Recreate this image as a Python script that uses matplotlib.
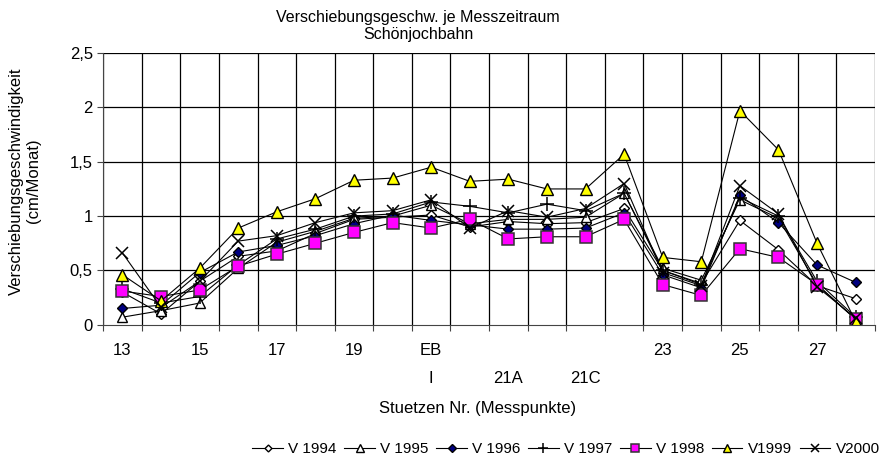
import matplotlib
matplotlib.use("Agg")
import matplotlib.pyplot as plt
from matplotlib.ticker import FixedLocator, FuncFormatter

plt.rcParams['font.family'] = ['Liberation Sans', 'DejaVu Sans']

# Messpunkte (Stuetzen)
stuetzen = ["13", "14", "15", "16", "17", "18", "19", "20", "EB I", "21",
            "21A", "21B", "21C", "22", "23", "24", "25", "26", "27", "28"]
# nur jedes zweite Label wird angezeigt
tick_labels = ["13", "15", "17", "19", "EB\nI", "\n21A", "\n21C", "23", "25", "27"]

v1994 = [0.30, 0.10, 0.40, 0.63, 0.68, 0.84, 0.97, 0.99, 1.01, 0.90,
         0.95, 0.93, 0.94, 1.07, 0.50, 0.38, 0.96, 0.69, 0.36, 0.24]
v1995 = [0.07, 0.13, 0.20, 0.52, 0.76, 0.86, 0.98, 1.00, 1.10, 0.93,
         0.97, 0.97, 0.99, 1.21, 0.52, 0.41, 1.15, 0.98, 0.37, 0.05]
v1996 = [0.15, 0.18, 0.48, 0.67, 0.73, 0.82, 0.93, 1.01, 0.96, 0.92,
         0.88, 0.88, 0.89, 1.03, 0.46, 0.34, 1.19, 0.94, 0.55, 0.39]
v1997 = [0.33, 0.20, 0.26, 0.55, 0.79, 0.88, 1.00, 1.02, 1.13, 1.09,
         1.03, 1.11, 1.05, 1.21, 0.50, 0.37, 1.17, 1.00, 0.40, 0.07]
v1998 = [0.31, 0.26, 0.32, 0.54, 0.65, 0.75, 0.85, 0.94, 0.89, 0.97,
         0.79, 0.81, 0.81, 0.97, 0.37, 0.27, 0.70, 0.62, 0.37, 0.05]
v1999 = [0.46, 0.22, 0.52, 0.89, 1.04, 1.16, 1.33, 1.35, 1.45, 1.32,
         1.34, 1.25, 1.25, 1.57, 0.62, 0.58, 1.97, 1.61, 0.75, 0.03]
v2000 = [0.66, 0.16, 0.40, 0.77, 0.82, 0.94, 1.03, 1.05, 1.15, 0.89,
         1.05, 0.99, 1.07, 1.30, 0.48, 0.36, 1.28, 1.02, 0.35, 0.06]

serien = [
    ("V 1994", v1994, dict(marker="D", ms=5, mfc="white", mec="black")),
    ("V 1995", v1995, dict(marker="^", ms=7.5, mfc="white", mec="black")),
    ("V 1996", v1996, dict(marker="D", ms=5.5, mfc="#000080", mec="black")),
    ("V 1997", v1997, dict(marker="+", ms=10, mec="black", mew=1.1)),
    ("V 1998", v1998, dict(marker="s", ms=8, mfc="#FF00FF", mec="#333333", mew=1.1)),
    ("V1999", v1999, dict(marker="^", ms=8, mfc="#FFFF00", mec="black")),
    ("V2000", v2000, dict(marker="x", ms=8.5, mec="black", mew=1.1)),
]

fig = plt.figure(figsize=(8.82, 4.70), dpi=100)
ax = fig.add_axes([0.117, 0.309, 0.875, 0.578])

x = list(range(len(stuetzen)))
for name, werte, stil in serien:
    ax.plot(x, werte, color="black", lw=0.8, label=name, **stil)

ax.set_xlim(-0.5, len(stuetzen) - 0.5)
ax.set_ylim(0, 2.5)

# Gitter: horizontal bei 0.5-Schritten, vertikal an den Kategoriegrenzen
for yv in [0.5, 1.0, 1.5, 2.0, 2.5]:
    ax.axhline(yv, color="black", lw=0.9, zorder=0)
for i in range(len(stuetzen) + 1):
    ax.axvline(i - 0.5, color="black", lw=0.9, zorder=0)

ax.set_yticks([0, 0.5, 1, 1.5, 2, 2.5])
ax.yaxis.set_major_formatter(FuncFormatter(lambda v, p: ("%g" % v).replace(".", ",")))
ax.xaxis.set_major_locator(FixedLocator([i - 0.5 for i in range(len(stuetzen) + 1)]))
ax.xaxis.set_major_formatter(FuncFormatter(lambda v, p: ""))
ax.set_xticks(list(range(0, len(stuetzen), 2)), minor=True)
ax.set_xticklabels(tick_labels, minor=True, fontsize=12, linespacing=2.1, va="top")
ax.tick_params(axis="x", which="minor", length=0, pad=13)
ax.tick_params(axis="x", which="major", length=4, direction="out", color="#444444")
ax.tick_params(axis="y", length=4, direction="out", labelsize=12, color="#444444")

for s in ["top", "right"]:
    ax.spines[s].set_visible(False)
ax.spines["left"].set_color("#444444")
ax.spines["bottom"].set_color("#444444")

fig.text(418 / 882, 1 - 26 / 470, "Verschiebungsgeschw. je Messzeitraum\nSchönjochbahn",
         ha="center", va="center", fontsize=11.5, linespacing=1.2)
fig.text(478 / 882, 1 - 408 / 470, "Stuetzen Nr. (Messpunkte)",
         ha="center", va="center", fontsize=12)
fig.text(25 / 882, 1 - 181 / 470, "Verschiebungsgeschwindigkeit\n(cm/Monat)",
         ha="center", va="center", rotation=90, fontsize=12, linespacing=1.15)

fig.legend(loc="center", bbox_to_anchor=(566 / 882, 1 - 449 / 470), ncol=7, frameon=False,
           fontsize=11, handlelength=2.0, handletextpad=0.35, columnspacing=0.5,
           markerscale=0.7)

fig.savefig("out.png", dpi=100)
